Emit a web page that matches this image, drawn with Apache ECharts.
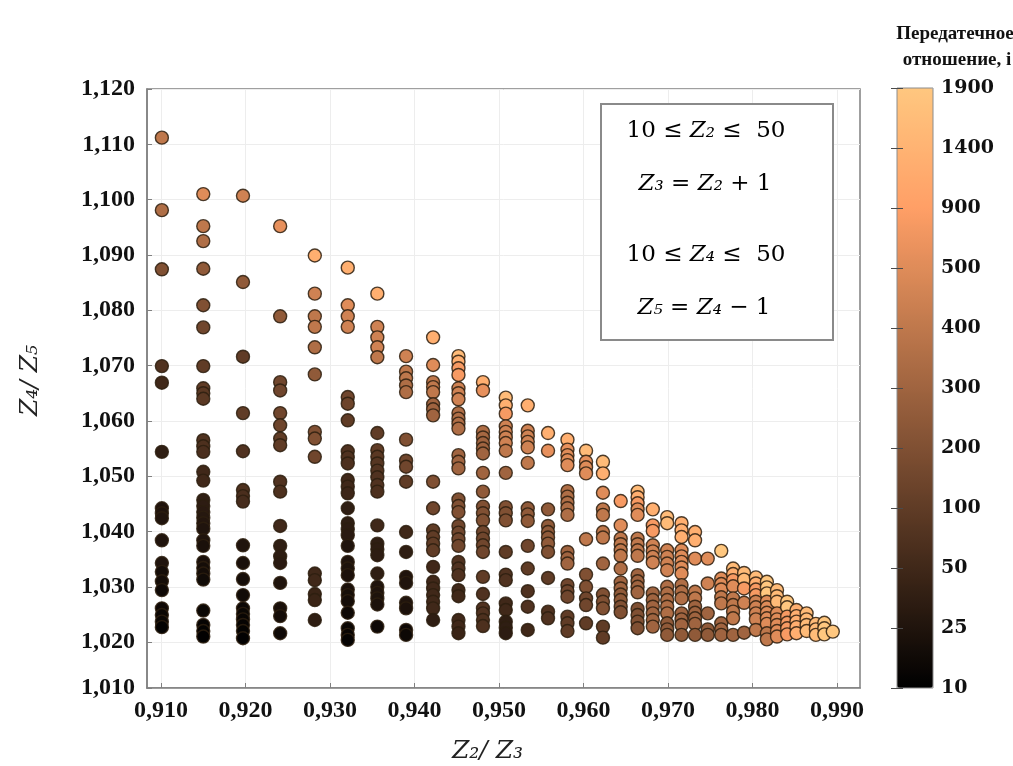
<!DOCTYPE html>
<html><head><meta charset="utf-8">
<script src="https://cdn.jsdelivr.net/npm/echarts@6/dist/echarts.min.js"></script>
<style>html,body{margin:0;padding:0;background:#fff}#c{width:1013px;height:766px}</style>
</head><body><div id="c"></div><script>
// x position (Z2/Z3) of each column of points
const colX = [0.9101,0.9150,0.9197,0.9241,0.9282,0.9321,0.9356,0.9390,0.9422,0.9452,0.9481,0.9508,0.9534,0.9558,0.9581,0.9603,0.9623,0.9644,0.9664,0.9682,0.9699,0.9716,0.9732,0.9747,0.9763,0.9777,0.9790,0.9804,0.9817,0.9829,0.9841,0.9852,0.9864,0.9875,0.9885,0.9895];
// each column: [Z4/Z5, gear ratio i]
const pts01 = [[1.1112,400],[1.0981,350],[1.0874,200],[1.0699,75],[1.0669,50],[1.0544,37],[1.0442,25],[1.0433,25],[1.0424,25],[1.0384,25],[1.0343,25],[1.0327,20],[1.0310,20],[1.0294,17],[1.0261,17],[1.0249,15],[1.0237,15],[1.0227,12]];
const pts02 = [[1.1010,500],[1.0952,400],[1.0925,350],[1.0875,250],[1.0809,200],[1.0769,150],[1.0699,100],[1.0659,100],[1.0650,90],[1.0640,90],[1.0565,75],[1.0554,70],[1.0544,65],[1.0508,50],[1.0492,50],[1.0457,37],[1.0446,35],[1.0435,33],[1.0425,30],[1.0415,28],[1.0405,25],[1.0384,25],[1.0374,22],[1.0345,22],[1.0334,20],[1.0324,20],[1.0313,18],[1.0257,15],[1.0231,13],[1.0220,12],[1.0210,11]];
const pts03 = [[1.1007,450],[1.0851,250],[1.0716,100],[1.0614,100],[1.0545,75],[1.0475,70],[1.0464,65],[1.0454,60],[1.0375,25],[1.0343,22],[1.0314,20],[1.0285,18],[1.0261,16],[1.0251,15],[1.0241,14],[1.0231,13],[1.0220,12],[1.0207,11]];
const pts04 = [[1.0952,600],[1.0789,250],[1.0670,150],[1.0655,150],[1.0614,150],[1.0592,140],[1.0568,100],[1.0556,100],[1.0490,75],[1.0472,70],[1.0410,50],[1.0374,37],[1.0355,35],[1.0343,33],[1.0307,25],[1.0261,22],[1.0247,20],[1.0216,17]];
const pts05 = [[1.0899,1300],[1.0830,450],[1.0789,400],[1.0770,400],[1.0733,350],[1.0684,250],[1.0580,200],[1.0568,200],[1.0535,150],[1.0324,50],[1.0312,50],[1.0287,45],[1.0276,45],[1.0240,37]];
const pts06 = [[1.0877,1300],[1.0809,500],[1.0789,450],[1.0770,450],[1.0643,150],[1.0631,140],[1.0601,100],[1.0545,75],[1.0534,75],[1.0523,70],[1.0493,50],[1.0481,50],[1.0469,48],[1.0442,37],[1.0415,37],[1.0404,35],[1.0393,33],[1.0374,25],[1.0345,25],[1.0333,24],[1.0321,23],[1.0295,22],[1.0285,21],[1.0274,20],[1.0253,17],[1.0225,15],[1.0213,14],[1.0204,13]];
const pts07 = [[1.0830,1300],[1.0770,450],[1.0751,450],[1.0733,450],[1.0715,400],[1.0578,100],[1.0547,100],[1.0535,90],[1.0523,85],[1.0510,80],[1.0498,75],[1.0484,75],[1.0472,70],[1.0411,50],[1.0378,37],[1.0368,36],[1.0357,35],[1.0324,37],[1.0300,25],[1.0289,25],[1.0279,24],[1.0268,23],[1.0228,17]];
const pts08 = [[1.0717,450],[1.0689,400],[1.0677,400],[1.0664,350],[1.0652,350],[1.0566,200],[1.0528,150],[1.0517,150],[1.0490,100],[1.0399,50],[1.0363,37],[1.0318,25],[1.0307,25],[1.0271,25],[1.0261,23],[1.0222,17],[1.0213,16]];
const pts09 = [[1.0751,1300],[1.0701,500],[1.0670,400],[1.0661,400],[1.0652,400],[1.0630,300],[1.0621,300],[1.0610,300],[1.0490,200],[1.0442,150],[1.0402,100],[1.0390,100],[1.0378,100],[1.0366,100],[1.0336,50],[1.0309,50],[1.0297,50],[1.0285,50],[1.0273,50],[1.0261,50],[1.0240,37]];
const pts10 = [[1.0717,1600],[1.0707,1300],[1.0695,800],[1.0683,800],[1.0659,450],[1.0650,450],[1.0639,450],[1.0614,350],[1.0604,350],[1.0595,350],[1.0586,350],[1.0538,300],[1.0526,300],[1.0514,300],[1.0458,200],[1.0446,200],[1.0435,200],[1.0410,150],[1.0398,150],[1.0386,150],[1.0374,150],[1.0345,75],[1.0333,75],[1.0321,75],[1.0294,50],[1.0283,50],[1.0240,50],[1.0228,50],[1.0216,45]];
const pts11 = [[1.0670,1300],[1.0655,600],[1.0580,350],[1.0570,320],[1.0560,300],[1.0550,300],[1.0541,300],[1.0506,300],[1.0472,250],[1.0445,200],[1.0433,200],[1.0420,200],[1.0399,150],[1.0387,150],[1.0375,150],[1.0363,150],[1.0318,100],[1.0287,75],[1.0261,75],[1.0252,75],[1.0240,70],[1.0229,70]];
const pts12 = [[1.0642,1600],[1.0628,1300],[1.0613,800],[1.0590,450],[1.0580,450],[1.0570,450],[1.0560,450],[1.0546,400],[1.0506,300],[1.0444,200],[1.0433,200],[1.0420,200],[1.0363,100],[1.0322,75],[1.0312,75],[1.0270,50],[1.0258,50],[1.0237,37],[1.0226,37],[1.0216,35]];
const pts13 = [[1.0628,1300],[1.0582,450],[1.0572,450],[1.0562,450],[1.0552,450],[1.0524,400],[1.0442,250],[1.0431,250],[1.0419,250],[1.0374,150],[1.0333,100],[1.0292,75],[1.0264,75],[1.0222,50]];
const pts14 = [[1.0578,1300],[1.0546,600],[1.0440,250],[1.0410,250],[1.0399,250],[1.0389,250],[1.0378,250],[1.0363,200],[1.0316,100],[1.0255,75],[1.0243,75]];
const pts15 = [[1.0566,1300],[1.0548,600],[1.0538,500],[1.0529,500],[1.0520,500],[1.0473,350],[1.0463,350],[1.0452,350],[1.0442,350],[1.0430,350],[1.0363,300],[1.0352,300],[1.0342,300],[1.0303,150],[1.0292,150],[1.0282,150],[1.0246,100],[1.0234,100],[1.0220,100]];
const pts16 = [[1.0546,1600],[1.0526,600],[1.0516,500],[1.0505,500],[1.0386,400],[1.0322,200],[1.0300,200],[1.0279,150],[1.0267,150],[1.0234,100]];
const pts17 = [[1.0526,1600],[1.0505,1300],[1.0470,500],[1.0440,400],[1.0430,400],[1.0399,400],[1.0389,400],[1.0342,300],[1.0286,200],[1.0273,200],[1.0261,200],[1.0228,100],[1.0208,100]];
const pts18 = [[1.0455,800],[1.0411,500],[1.0387,400],[1.0377,400],[1.0366,400],[1.0356,400],[1.0333,350],[1.0308,300],[1.0297,300],[1.0286,250],[1.0276,250],[1.0264,200],[1.0254,200]];
const pts19 = [[1.0472,1600],[1.0462,1300],[1.0451,800],[1.0440,500],[1.0430,500],[1.0387,400],[1.0377,400],[1.0366,400],[1.0356,400],[1.0321,300],[1.0310,300],[1.0300,300],[1.0290,300],[1.0260,200],[1.0249,200],[1.0237,200],[1.0225,200]];
const pts20 = [[1.0440,1300],[1.0411,800],[1.0401,800],[1.0375,450],[1.0364,450],[1.0354,450],[1.0344,450],[1.0288,300],[1.0276,300],[1.0264,300],[1.0252,300],[1.0240,300],[1.0228,300]];
const pts21 = [[1.0426,1600],[1.0415,1600],[1.0366,450],[1.0354,450],[1.0342,450],[1.0330,450],[1.0300,350],[1.0288,350],[1.0276,350],[1.0264,350],[1.0252,350],[1.0234,250],[1.0223,250],[1.0213,250]];
const pts22 = [[1.0415,1300],[1.0402,1300],[1.0390,1300],[1.0366,500],[1.0355,500],[1.0345,500],[1.0335,500],[1.0324,500],[1.0303,350],[1.0291,350],[1.0279,350],[1.0252,300],[1.0241,300],[1.0231,300],[1.0213,250]];
const pts23 = [[1.0399,1300],[1.0384,1300],[1.0351,500],[1.0291,400],[1.0279,400],[1.0264,300],[1.0253,300],[1.0243,300],[1.0233,300],[1.0213,250]];
const pts24 = [[1.0351,500],[1.0306,450],[1.0252,300],[1.0223,250],[1.0213,250]];
const pts25 = [[1.0365,1900],[1.0315,500],[1.0305,500],[1.0295,500],[1.0281,400],[1.0270,400],[1.0234,300],[1.0223,300],[1.0213,300]];
const pts26 = [[1.0333,1600],[1.0323,1300],[1.0312,800],[1.0301,500],[1.0279,400],[1.0267,400],[1.0255,400],[1.0243,400],[1.0213,300]];
const pts27 = [[1.0325,1600],[1.0313,1600],[1.0297,800],[1.0271,450],[1.0217,300]];
const pts28 = [[1.0317,1600],[1.0306,1300],[1.0295,800],[1.0285,800],[1.0273,450],[1.0263,450],[1.0252,450],[1.0241,450],[1.0222,400]];
const pts29 = [[1.0309,1900],[1.0299,1900],[1.0288,1900],[1.0273,500],[1.0263,500],[1.0253,500],[1.0243,500],[1.0233,500],[1.0216,400],[1.0205,400]];
const pts30 = [[1.0294,1600],[1.0283,1600],[1.0273,1600],[1.0252,500],[1.0241,500],[1.0231,500],[1.0220,500],[1.0210,500]];
const pts31 = [[1.0273,1900],[1.0263,1900],[1.0246,800],[1.0235,800],[1.0225,800],[1.0214,800]];
const pts32 = [[1.0258,1300],[1.0247,1300],[1.0237,1300],[1.0227,1300],[1.0216,1300]];
const pts33 = [[1.0252,1600],[1.0241,1600],[1.0231,1600],[1.0220,1600]];
const pts34 = [[1.0233,1600],[1.0223,1600],[1.0213,1600]];
const pts35 = [[1.0235,1900],[1.0225,1900],[1.0214,1900]];
const pts36 = [[1.0219,1900]];
const columns = [pts01,pts02,pts03,pts04,pts05,pts06,pts07,pts08,pts09,pts10,pts11,pts12,pts13,pts14,pts15,pts16,pts17,pts18,pts19,pts20,pts21,pts22,pts23,pts24,pts25,pts26,pts27,pts28,pts29,pts30,pts31,pts32,pts33,pts34,pts35,pts36];

// axis extents and tick labels
const xMin = 0.90834, xMax = 0.99272;
const xTickValues = [0.91,0.92,0.93,0.94,0.95,0.96,0.97,0.98,0.99];
const yTickValues = [1.0117,1.02,1.03,1.04,1.05,1.06,1.07,1.08,1.09,1.10,1.11,1.12];
const yTickLabels = ['1,010','1,020','1,030','1,040','1,050','1,060','1,070','1,080','1,090','1,100','1,110','1,120'];
// colour bar ticks (evenly spaced)
const colorTicks = [10,25,50,100,200,300,400,500,900,1400,1900];
const copper = ['#000000','#402819','#805033','#bf784c','#ff9f66','#ffc77f'];

function levelOf(v){
  if (v <= colorTicks[0]) return 0;
  for (let k = 1; k < colorTicks.length; k++) {
    if (v <= colorTicks[k]) return k - 1 + (v - colorTicks[k-1]) / (colorTicks[k] - colorTicks[k-1]);
  }
  return colorTicks.length - 1;
}
const data = [];
columns.forEach((col, ci) => col.forEach(p => data.push([colX[ci], p[0], levelOf(p[1]), p[1]])));

const serif = "'Liberation Serif','DejaVu Serif',serif";
const lblStyle = {fontFamily: serif, fontWeight: 'bold', fontSize: 24, color: '#111'};
const cbStyle = {fontFamily: "'DejaVu Serif',serif", fontWeight: 'bold', fontSize: 19, color: '#111'};
const mathRich = {
  n: {fontFamily: "'DejaVu Serif',serif", fontSize: 23, color: '#222'},
  z: {fontFamily: "'DejaVu Serif',serif", fontStyle: 'italic', fontSize: 23, color: '#222'}
};
function fmt(v){ return v.toFixed(3).replace('.', ','); }

const chart = echarts.init(document.getElementById('c'), null, {renderer: 'canvas'});
chart.setOption({
  animation: false,
  backgroundColor: '#ffffff',
  grid: [
    {left: 147, top: 89, right: 153, bottom: 78, outerBoundsMode: 'none', containLabel: false, show: true, borderColor: '#808080', borderWidth: 1.5, backgroundColor: '#ffffff'},
    {left: 897, top: 88, width: 36, height: 600, outerBoundsMode: 'none', containLabel: false, show: true, borderColor: '#8c8c8c', borderWidth: 1, backgroundColor: 'rgba(0,0,0,0)', z: 10}
  ],
  xAxis: [
    {type: 'value', gridIndex: 0, min: xMin, max: xMax,
     name: 'Z₂/ Z₃', nameLocation: 'middle', nameGap: 51,
     nameTextStyle: {fontFamily: "'DejaVu Serif',serif", fontStyle: 'italic', fontSize: 25, color: '#222', padding: [0, 32, 0, 0]},
     axisLine: {lineStyle: {color: '#808080', width: 1.5}},
     axisTick: {inside: true, length: 5, customValues: xTickValues, lineStyle: {color: '#808080'}},
     splitLine: {show: true, lineStyle: {color: '#ededed', width: 1}},
     axisLabel: Object.assign({margin: 11, customValues: xTickValues, formatter: v => fmt(v)}, lblStyle)},
    {type: 'value', gridIndex: 1, min: 0, max: 1, show: false}
  ],
  yAxis: [
    {type: 'value', gridIndex: 0, min: yTickValues[0], max: yTickValues[yTickValues.length - 1],
     name: 'Z₄/ Z₅', nameLocation: 'middle', nameGap: 104,
     nameTextStyle: {fontFamily: "'DejaVu Serif',serif", fontStyle: 'italic', fontSize: 25, color: '#222', padding: [0, 0, 0, 16]},
     axisLine: {show: true, lineStyle: {color: '#808080', width: 1.5}},
     axisTick: {show: true, inside: true, length: 5, customValues: yTickValues, lineStyle: {color: '#808080'}},
     splitLine: {show: true, lineStyle: {color: '#ededed', width: 1}},
     axisLabel: Object.assign({margin: 12, customValues: yTickValues, formatter: v => {
       const k = yTickValues.findIndex(t => Math.abs(t - v) < 1e-6); return k >= 0 ? yTickLabels[k] : '';
     }}, lblStyle)},
    {type: 'value', gridIndex: 1, min: 0, max: colorTicks.length - 1, interval: 1, position: 'right', z: 12,
     axisLine: {show: false}, splitLine: {show: false},
     axisTick: {show: true, inside: true, length: 6, lineStyle: {color: '#4a4a4a', width: 1}},
     axisLabel: Object.assign({margin: 8, formatter: v => String(colorTicks[Math.round(v)])}, cbStyle)},
    {type: 'value', gridIndex: 1, min: 0, max: colorTicks.length - 1, interval: 1, position: 'left', z: 12,
     axisLine: {show: false}, splitLine: {show: false}, axisLabel: {show: false},
     axisTick: {show: true, inside: true, length: 6, lineStyle: {color: '#4a4a4a', width: 1}}}
  ],
  visualMap: {
    type: 'continuous', min: 0, max: colorTicks.length - 1, dimension: 2, seriesIndex: 0,
    orient: 'vertical', left: 897, top: 88, itemWidth: 36, itemHeight: 600, padding: 0,
    calculable: false, hoverLink: false, showLabel: false,
    inRange: {color: copper}
  },
  series: [{
    type: 'scatter', xAxisIndex: 0, yAxisIndex: 0, data: data,
    symbol: 'circle', symbolSize: 13,
    itemStyle: {borderColor: 'rgba(45,30,15,0.85)', borderWidth: 1.4, opacity: 1},
    emphasis: {disabled: true}
  }],
  graphic: [
    {type: 'text', style: {text: 'Передатечное', x: 955, y: 34, textAlign: 'center', textVerticalAlign: 'middle', font: "bold 19px 'Liberation Serif','DejaVu Serif',serif", fill: '#111'}},
    {type: 'text', style: {text: 'отношение, i', x: 957, y: 60, textAlign: 'center', textVerticalAlign: 'middle', font: "bold 19px 'Liberation Serif','DejaVu Serif',serif", fill: '#111'}},
    {type: 'rect', z: 50, shape: {x: 601, y: 104, width: 232, height: 236}, style: {fill: '#ffffff', stroke: '#8a8a8a', lineWidth: 2}},
    {type: 'text', z: 51, style: {text: '{n|10 ≤ }{z|Z₂}{n| ≤  50}', rich: mathRich, x: 706, y: 131, textAlign: 'center', textVerticalAlign: 'middle'}},
    {type: 'text', z: 51, style: {text: '{z|Z₃}{n| = }{z|Z₂}{n| + 1}', rich: mathRich, x: 705, y: 184, textAlign: 'center', textVerticalAlign: 'middle'}},
    {type: 'text', z: 51, style: {text: '{n|10 ≤ }{z|Z₄}{n| ≤  50}', rich: mathRich, x: 706, y: 255, textAlign: 'center', textVerticalAlign: 'middle'}},
    {type: 'text', z: 51, style: {text: '{z|Z₅}{n| = }{z|Z₄}{n| − 1}', rich: mathRich, x: 704, y: 308, textAlign: 'center', textVerticalAlign: 'middle'}}
  ]
});
</script></body></html>
